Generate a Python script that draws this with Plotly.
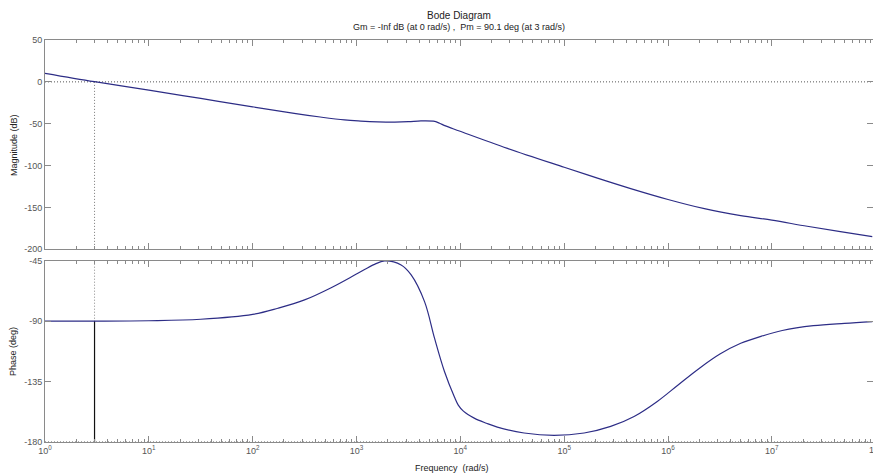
import plotly.graph_objects as go

# Open-loop frequency response (rad/s, dB, deg)
mag_freq = [1, 3, 10, 31.6, 100, 251, 447, 766, 1100, 1600, 2340, 3160, 4170,
            5500, 6310, 7080, 9790, 28400, 100000, 209000, 437000, 1000000,
            2240000, 5010000, 10000000, 21900000, 45700000, 92700000]
mag_db = [10.2, 0.2, -9.9, -19.8, -29.8, -37.6, -42.0, -45.5, -46.8, -47.7, -48.0,
          -47.6, -46.6, -47.0, -49.4, -52.3, -58.7, -79.4, -102.0, -115.0,
          -127.5, -140.5, -151.5, -159.8, -165.2, -172.5, -178.8, -184.9]

phase_freq = [1, 3.16, 10, 31.6, 100, 175, 316, 570, 1030, 1490, 1860,
              2690, 3360, 4520, 5640, 7030, 8770, 9550, 10700, 13600, 17800,
              22700, 41100, 80000, 155600, 280500, 471000, 794000, 1259000,
              1995000, 3162000, 5012000, 7943000, 12590000, 25120000,
              50120000, 92680000]
phase_deg = [-90.0, -90.0, -89.7, -88.6, -85.0, -80.4, -74.2, -65.1, -54.4,
             -47.7, -45.2, -48.2, -55.6, -75.5, -102.7, -127.5, -146.5, -152.5,
             -157.0, -162.2, -166.0, -168.9, -173.3, -175.1, -173.3, -168.4,
             -161.0, -149.6, -137.3, -125.2, -114.5, -106.5, -101.2, -97.0,
             -93.4, -91.6, -90.3]

# Stability margins
gain_crossover = 3.0
phase_margin = 90.1

mag_ticks = [50, 0, -50, -100, -150, -200]
phase_ticks = [-45, -90, -135, -180]
decades = list(range(0, 8))

W, H = 873, 475
ML, MR, MT, MB = 45, 0, 40, 33
LOG_MAX = 7.974

CURVE = "#2d2d86"
AXIS = "#8a8a8a"
TICKFONT = dict(family="Liberation Sans, Arial, sans-serif", size=9, color="#555555")
TEXTFONT = dict(family="Liberation Sans, Arial, sans-serif", size=9, color="#222222")

minor_vals = [m * 10 ** k for k in range(0, 8) for m in range(2, 10)]

fig = go.Figure()

# Reference lines: 0 dB, -180 deg, crossover frequency
fig.add_trace(go.Scatter(x=[1, 10 ** LOG_MAX], y=[0, 0], mode="lines",
                         line=dict(color="#555555", width=1, dash="1px,2px"),
                         xaxis="x", yaxis="y", hoverinfo="skip"))
fig.add_trace(go.Scatter(x=[gain_crossover, gain_crossover], y=[0, -200], mode="lines",
                         line=dict(color="#777777", width=1, dash="1px,2px"),
                         xaxis="x", yaxis="y", hoverinfo="skip"))
fig.add_trace(go.Scatter(x=[1, 10 ** LOG_MAX], y=[-180, -180], mode="lines",
                         line=dict(color="#555555", width=1, dash="1px,2px"),
                         xaxis="x2", yaxis="y2", hoverinfo="skip"))
fig.add_trace(go.Scatter(x=[gain_crossover, gain_crossover], y=[-45, -180 + phase_margin],
                         mode="lines", line=dict(color="#888888", width=1, dash="1px,2px"),
                         xaxis="x2", yaxis="y2", hoverinfo="skip"))
fig.add_trace(go.Scatter(x=[gain_crossover, gain_crossover], y=[-180, -180 + phase_margin],
                         mode="lines", line=dict(color="#111111", width=1.2),
                         xaxis="x2", yaxis="y2", hoverinfo="skip"))

# Magnitude and phase curves
fig.add_trace(go.Scatter(x=mag_freq, y=mag_db, mode="lines",
                         line=dict(color=CURVE, width=1.2, shape="spline", smoothing=1.0),
                         xaxis="x", yaxis="y"))
fig.add_trace(go.Scatter(x=phase_freq, y=phase_deg, mode="lines",
                         line=dict(color=CURVE, width=1.2, shape="spline", smoothing=1.0),
                         xaxis="x2", yaxis="y2"))

plot_h = H - MT - MB
def py(p):
    return (H - MB - p) / plot_h
def px(p):
    return (p - ML) / (W - ML - MR)

xcommon = dict(type="log", range=[0, LOG_MAX], showline=True, linecolor=AXIS,
               linewidth=1, mirror="allticks", ticks="inside", ticklen=6,
               tickcolor=AXIS, showgrid=False, zeroline=False,
               tickmode="array", tickvals=[10 ** d for d in decades],
               minor=dict(ticks="inside", ticklen=3, tickcolor=AXIS,
                          tickmode="array", tickvals=minor_vals, showgrid=False))

ycommon = dict(showline=True, linecolor=AXIS, linewidth=1, mirror="allticks",
               ticks="inside", ticklen=6, tickcolor=AXIS, showgrid=False,
               zeroline=False, tickfont=TICKFONT, tickmode="array")

fig.update_layout(
    width=W, height=H,
    margin=dict(l=ML, r=MR, t=MT, b=MB),
    paper_bgcolor="white", plot_bgcolor="white",
    showlegend=False,
    xaxis=dict(xcommon, anchor="y", showticklabels=False),
    yaxis=dict(ycommon, domain=[py(249.3), 1], range=[-200, 50],
               tickvals=mag_ticks, ticktext=[str(v) for v in mag_ticks]),
    xaxis2=dict(xcommon, anchor="y2", showticklabels=True, tickfont=TICKFONT,
                ticktext=["10<sup>%d</sup>" % d for d in decades]),
    yaxis2=dict(ycommon, domain=[0, py(260.7)], range=[-180, -45],
                tickvals=phase_ticks, ticktext=[str(v) for v in phase_ticks]),
    annotations=[
        dict(text="Bode Diagram", xref="paper", yref="paper", x=px(459), y=py(15),
             xanchor="center", yanchor="middle", showarrow=False,
             font=dict(TEXTFONT, size=10)),
        dict(text="Gm = -Inf dB (at 0 rad/s) ,  Pm = 90.1 deg (at 3 rad/s)",
             xref="paper", yref="paper", x=px(459), y=py(27),
             xanchor="center", yanchor="middle", showarrow=False, font=TEXTFONT),
        dict(text="Magnitude (dB)", xref="paper", yref="paper", x=px(14), y=py(145),
             xanchor="center", yanchor="middle", textangle=-90, showarrow=False,
             font=TEXTFONT),
        dict(text="Phase (deg)", xref="paper", yref="paper", x=px(13), y=py(352),
             xanchor="center", yanchor="middle", textangle=-90, showarrow=False,
             font=TEXTFONT),
        dict(text="Frequency  (rad/s)", xref="paper", yref="paper", x=px(452), y=py(468),
             xanchor="center", yanchor="middle", showarrow=False, font=TEXTFONT),
        dict(text="10<sup>8</sup>", xref="paper", yref="paper", x=px(876), y=py(449),
             xanchor="center", yanchor="middle", showarrow=False, font=TICKFONT),
    ],
)

fig.write_html("out.html", config={"displayModeBar": False})
